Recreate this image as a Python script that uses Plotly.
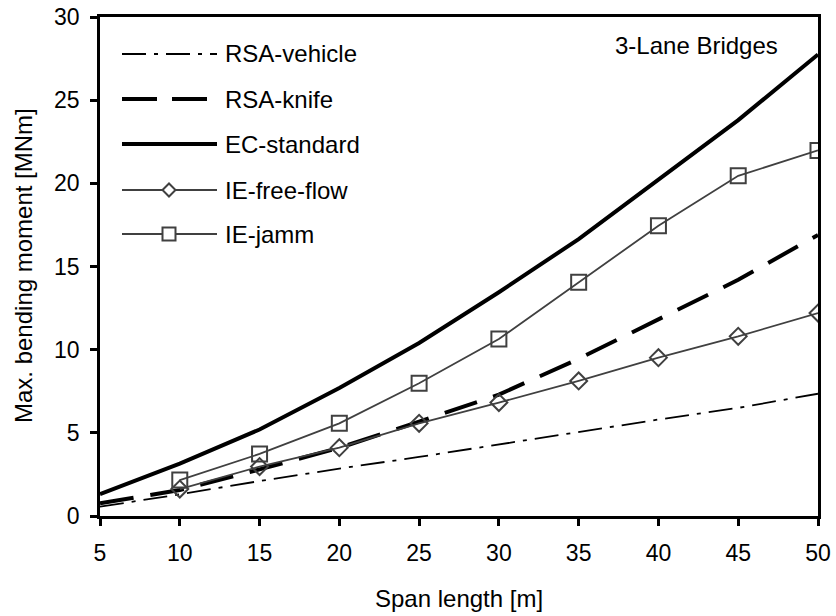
import plotly.graph_objects as go

span = [5, 10, 15, 20, 25, 30, 35, 40, 45, 50]
rsa_vehicle = [0.56, 1.3, 2.1, 2.85, 3.55, 4.3, 5.05, 5.8, 6.5, 7.35]
rsa_knife = [0.76, 1.56, 2.8, 4.1, 5.67, 7.3, 9.45, 11.8, 14.2, 16.9]
ec_standard = [1.32, 3.15, 5.2, 7.7, 10.4, 13.45, 16.65, 20.2, 23.8, 27.75]
span_ie = [10, 15, 20, 25, 30, 35, 40, 45, 50]
ie_free = [1.62, 2.97, 4.11, 5.57, 6.82, 8.12, 9.52, 10.8, 12.2]
ie_jamm = [2.16, 3.73, 5.57, 7.98, 10.64, 14.05, 17.45, 20.45, 21.98]
x_ticks = [5, 10, 15, 20, 25, 30, 35, 40, 45, 50]
y_ticks = [0, 5, 10, 15, 20, 25, 30]

FONT = "Liberation Sans, Arial, sans-serif"
FS_TICK = 23
FS_TEXT = 24
GRAY = "#404040"
DASHDOT = "24px,8px,4px,8px"
LONGDASH = "34px,17px"

fig = go.Figure()
fig.add_trace(go.Scatter(x=span, y=rsa_vehicle, mode="lines", name="RSA-vehicle",
                         line=dict(color="black", width=1.8, dash=DASHDOT)))
fig.add_trace(go.Scatter(x=span, y=rsa_knife, mode="lines", name="RSA-knife",
                         line=dict(color="black", width=4, dash=LONGDASH)))
fig.add_trace(go.Scatter(x=span, y=ec_standard, mode="lines", name="EC-standard",
                         line=dict(color="black", width=4)))
fig.add_trace(go.Scatter(x=span_ie, y=ie_free, mode="lines+markers", name="IE-free-flow",
                         line=dict(color=GRAY, width=1.8),
                         marker=dict(symbol="diamond-open", size=13, color=GRAY, line=dict(width=2, color=GRAY))))
fig.add_trace(go.Scatter(x=span_ie, y=ie_jamm, mode="lines+markers", name="IE-jamm",
                         line=dict(color=GRAY, width=1.8),
                         marker=dict(symbol="square-open", size=15, color=GRAY, line=dict(width=2, color=GRAY))))

# Plot-area pixel box and helpers for paper coordinates
L, R, T, B = 100, 818, 17, 516
def px(x): return (x - L) / (R - L)
def py(y): return (B - y) / (B - T)

# Custom legend (line samples with long strokes, as in the reference)
legend_rows = [
    ("RSA-vehicle", dict(color="black", width=1.8, dash=DASHDOT), None, 54),
    ("RSA-knife", dict(color="black", width=4, dash="35px,15px"), None, 99),
    ("EC-standard", dict(color="black", width=4), None, 144),
    ("IE-free-flow", dict(color=GRAY, width=1.8), "diamond", 190),
    ("IE-jamm", dict(color=GRAY, width=1.8), "square", 234),
]
shapes = []
annotations = []
for name, ln, mk, yc in legend_rows:
    shapes.append(dict(type="line", xref="paper", yref="paper", x0=px(122), x1=px(217),
                       y0=py(yc), y1=py(yc), line=ln))
    cx = 169
    d = 6.5
    if mk == "diamond":
        path = f"M {px(cx-d)} {py(yc)} L {px(cx)} {py(yc-d)} L {px(cx+d)} {py(yc)} L {px(cx)} {py(yc+d)} Z"
        shapes.append(dict(type="path", xref="paper", yref="paper", path=path,
                           fillcolor="white", line=dict(color=GRAY, width=2)))
    elif mk == "square":
        shapes.append(dict(type="rect", xref="paper", yref="paper", x0=px(cx-d), x1=px(cx+d),
                           y0=py(yc+d), y1=py(yc-d), fillcolor="white", line=dict(color=GRAY, width=2)))
    annotations.append(dict(xref="paper", yref="paper", x=px(223), y=py(yc), text=name,
                            showarrow=False, xanchor="left", yanchor="middle",
                            font=dict(family=FONT, size=FS_TEXT, color="black")))

annotations.append(dict(xref="paper", yref="paper", x=px(780), y=py(46), text="3-Lane Bridges",
                        showarrow=False, xanchor="right", yanchor="middle",
                        font=dict(family=FONT, size=FS_TEXT, color="black")))
# Axis titles
annotations.append(dict(xref="paper", yref="paper", x=px(459), y=py(598), text="Span length [m]",
                        showarrow=False, xanchor="center", yanchor="middle",
                        font=dict(family=FONT, size=FS_TEXT, color="black")))
annotations.append(dict(xref="paper", yref="paper", x=px(23), y=py(266), text="Max. bending moment [MNm]",
                        showarrow=False, xanchor="center", yanchor="middle", textangle=-90,
                        font=dict(family=FONT, size=FS_TEXT, color="black")))

fig.update_layout(
    width=836, height=616,
    margin=dict(l=L, r=836 - R, t=T, b=616 - B, autoexpand=False),
    plot_bgcolor="white", paper_bgcolor="white",
    showlegend=False,
    shapes=shapes, annotations=annotations,
    font=dict(family=FONT, size=FS_TICK, color="black"),
)
fig.update_xaxes(range=[5, 50], tickvals=x_ticks, automargin=False,
                 showgrid=False, zeroline=False, showline=True, linecolor="black", linewidth=2.5,
                 mirror=True, ticks="outside", ticklen=7, tickwidth=2.5, tickcolor="black",
                 tickfont=dict(size=FS_TICK), ticklabelstandoff=8)
fig.update_yaxes(range=[0, 30], tickvals=y_ticks, automargin=False,
                 showgrid=False, zeroline=False, showline=True, linecolor="black", linewidth=2.5,
                 mirror=True, ticks="outside", ticklen=7, tickwidth=2.5, tickcolor="black",
                 tickfont=dict(size=FS_TICK), ticklabelstandoff=6)

fig.write_html("out.html")
